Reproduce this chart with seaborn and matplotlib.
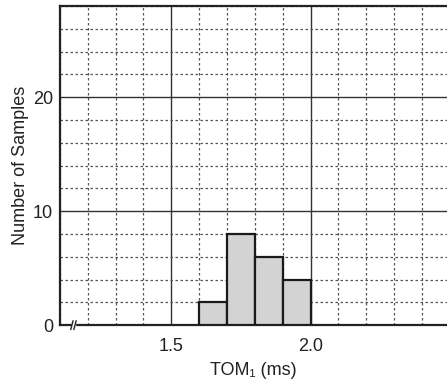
import numpy as np
import matplotlib
matplotlib.use("Agg")
import matplotlib.pyplot as plt
import seaborn as sns
from matplotlib.ticker import MultipleLocator

# ==== Datos ====
bin_edges = [1.6, 1.7, 1.8, 1.9, 2.0]
bin_centers = [1.65, 1.75, 1.85, 1.95]
counts = [2, 8, 6, 4]
x_ticks = [1.5, 2.0]
x_tick_labels = ["1.5", "2.0"]
y_ticks = [0, 10, 20]
y_tick_labels = ["0", "10", "20"]

sns.set_style("white")
plt.rcParams['font.family'] = ['Liberation Sans', 'DejaVu Sans']

fig = plt.figure(figsize=(4.47, 3.83), dpi=100)
ax = fig.add_axes([0.134, 0.151, 0.866, 0.833])

sns.histplot(x=bin_centers, weights=counts, bins=bin_edges, ax=ax,
             color="#d3d3d3", edgecolor="#1a1a1a", linewidth=1.6,
             alpha=1.0, zorder=3)

ax.set_xlim(1.1, 2.49)
ax.set_ylim(0, 28)

# rejilla
ax.xaxis.set_minor_locator(MultipleLocator(0.1))
ax.yaxis.set_minor_locator(MultipleLocator(2))
ax.set_xticks(x_ticks)
ax.set_xticklabels(x_tick_labels)
ax.set_yticks(y_ticks)
ax.set_yticklabels(y_tick_labels)
ax.grid(which="major", color="#333333", linestyle="-", linewidth=1.0, zorder=1)
ax.grid(which="minor", color="#555555", linestyle=(0, (2, 2)), linewidth=0.9, zorder=1)
ax.set_axisbelow(True)
ax.tick_params(which="both", length=0, labelsize=13, colors="#222222")
ax.tick_params(axis="x", pad=9)
ax.tick_params(axis="y", pad=5)

for s in ["left", "bottom", "top"]:
    ax.spines[s].set_visible(True)
    ax.spines[s].set_color("#222222")
    ax.spines[s].set_linewidth(1.6)
ax.spines["right"].set_visible(False)

ax.set_xlabel("TOM\u2081 (ms)", fontsize=13, color="#222222", labelpad=5)
ax.set_ylabel("Number of Samples", fontsize=13, color="#222222", labelpad=3)

# marca de corte en el eje x
ax.add_patch(plt.Rectangle((0.030, -0.012), 0.010, 0.024, transform=ax.transAxes,
                           color="white", clip_on=False, zorder=5))
for dx in (0.031, 0.039):
    ax.plot([dx - 0.003, dx + 0.003], [-0.014, 0.014], transform=ax.transAxes,
            color="#222222", lw=1.0, clip_on=False, zorder=6)

fig.savefig("out.png", dpi=100)
